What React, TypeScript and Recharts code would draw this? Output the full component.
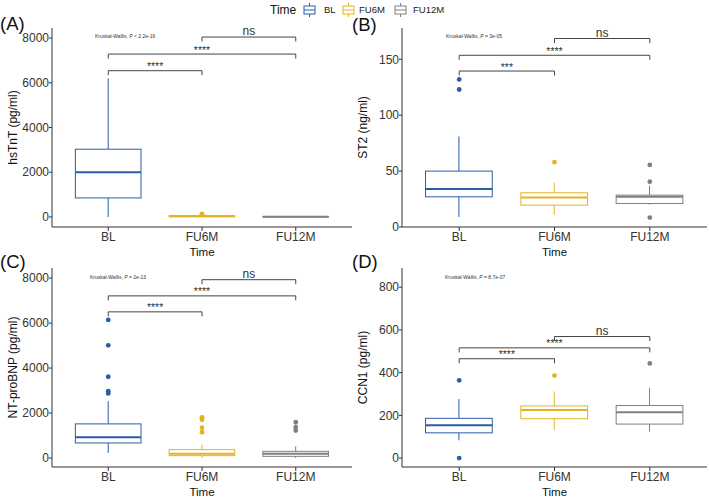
import { ComposedChart, Bar, Scatter, XAxis, YAxis, ReferenceLine } from 'recharts';

const TIMES = ['BL', 'FU6M', 'FU12M'];
const COLORS = ['#2B5DA8', '#E5B31E', '#808080'];
const PAIRS = [['BL', 'FU6M'], ['BL', 'FU12M'], ['FU6M', 'FU12M']];

// (A) hsTnT
const hstntLow = [0, 0, 0];
const hstntQ1 = [850, 10, 5];
const hstntMedian = [2000, 30, 10];
const hstntQ3 = [3030, 60, 20];
const hstntHigh = [6200, 80, 30];
const hstntOutliers = [[], [110, 140], []];
const hstntBrackets = [6540, 7285, 8045];
const hstntSignif = ['****', '****', 'ns'];

// (B) ST2
const st2Low = [9, 11, 20];
const st2Q1 = [27, 19.5, 21];
const st2Median = [34, 26.4, 27];
const st2Q3 = [50, 30.6, 28.5];
const st2High = [81, 39.6, 37];
const st2Outliers = [[123, 132], [58], [8.4, 40.5, 55.5]];
const st2Brackets = [139.5, 153.6, 168.6];
const st2Signif = ['***', '****', 'ns'];

// (C) NT-proBNP
const bnpLow = [223, 0, 0];
const bnpQ1 = [669, 104, 74];
const bnpMedian = [922, 193, 193];
const bnpQ3 = [1517, 372, 297];
const bnpHigh = [2528, 595, 520];
const bnpOutliers = [[2870, 2974, 3613, 5011, 6141], [1145, 1350, 1700, 1760, 1810], [1220, 1370, 1590]];
const bnpBrackets = [6500, 7210, 7930];
const bnpSignif = ['****', '****', 'ns'];

// (D) CCN1
const ccnLow = [83, 131, 123];
const ccnQ1 = [118, 184, 159];
const ccnMedian = [154, 225, 214];
const ccnQ3 = [186, 244, 246];
const ccnHigh = [276, 312, 328];
const ccnOutliers = [[0, 364], [386], [443]];
const ccnBrackets = [465, 516, 569];
const ccnSignif = ['****', '****', 'ns'];

const FONT = 'Arial, "Liberation Sans", sans-serif';

function buildRows(low, q1, median, q3, high) {
  return TIMES.map((time, i) => ({ time, low: low[i], q1: q1[i], median: median[i], q3: q3[i], high: high[i] }));
}

function BoxShape(props: any) {
  const { x, y, width, height, payload, index } = props;
  const { low, q1, median, q3, high } = payload;
  const color = COLORS[index];
  const toY = (v: number) => y + ((high - v) / (high - low)) * height;
  const cx = x + width / 2;
  return (
    <g>
      <line x1={cx} x2={cx} y1={toY(high)} y2={toY(q3)} stroke={color} strokeWidth={1} />
      <line x1={cx} x2={cx} y1={toY(q1)} y2={toY(low)} stroke={color} strokeWidth={1} />
      <rect x={x} y={toY(q3)} width={width} height={Math.max(toY(q1) - toY(q3), 0.5)} fill="#fff" stroke={color} strokeWidth={1} />
      <line x1={x} x2={x + width} y1={toY(median)} y2={toY(median)} stroke={color} strokeWidth={2} />
    </g>
  );
}

function BracketShape(props: any) {
  const { x1, y1, x2, y2 } = props;
  return <path d={`M${x1},${y1 + 4.5}V${y1}H${x2}V${y2 + 4.5}`} fill="none" stroke="#444" strokeWidth={1} />;
}

function Panel({ left, top, width, rows, outliers, brackets, signif, domain, ticks, yLabel }) {
  const plotW = width - 52 - 2;
  const pad = (plotW / 3.2) * 0.1;
  const barSize = ((plotW - 2 * pad) / 3) * 0.7;
  return (
    <div style={{ position: 'absolute', left, top }}>
      <ComposedChart width={width} height={258} data={rows} margin={{ top: 28, right: 2, left: 0, bottom: 0 }}>
        <XAxis
          dataKey="time"
          type="category"
          allowDuplicatedCategory={false}
          padding={{ left: pad, right: pad }}
          height={31}
          tickSize={4}
          tickMargin={1}
          interval={0}
          axisLine={{ stroke: '#333' }}
          tickLine={{ stroke: '#333' }}
          tick={{ fill: '#333', fontSize: 12, fontFamily: FONT }}
          label={{ value: 'Time', position: 'insideBottom', offset: 2, fill: '#111', fontSize: 11.5, fontFamily: FONT }}
        />
        <YAxis
          type="number"
          width={52}
          domain={domain}
          ticks={ticks}
          interval={0}
          allowDataOverflow
          tickSize={3}
          tickMargin={0}
          axisLine={{ stroke: '#333' }}
          tickLine={{ stroke: '#333' }}
          tick={{ fill: '#333', fontSize: 12, fontFamily: FONT }}
          label={{ value: yLabel, angle: -90, position: 'insideLeft', offset: 13, style: { textAnchor: 'middle' }, fill: '#111', fontSize: 12, fontFamily: FONT }}
        />
        <Bar dataKey={(d) => [d.low, d.high]} barSize={barSize} shape={BoxShape} isAnimationActive={false} />
        {TIMES.map((t, i) => (
          <Scatter
            key={t}
            data={outliers[i].map((v) => ({ time: t, value: v }))}
            dataKey="value"
            isAnimationActive={false}
            shape={(p: any) => <circle cx={p.cx} cy={p.cy} r={2.4} fill={COLORS[i]} />}
          />
        ))}
        {brackets.map((b, i) => (
          <ReferenceLine
            key={i}
            segment={[{ x: PAIRS[i][0], y: b }, { x: PAIRS[i][1], y: b }]}
            shape={BracketShape}
            ifOverflow="visible"
            label={{ value: signif[i], position: 'top', offset: signif[i] === 'ns' ? 2 : 0.5, fill: '#333', fontSize: signif[i] === 'ns' ? 12 : 10.5, fontFamily: FONT }}
          />
        ))}
      </ComposedChart>
    </div>
  );
}

function LegendIcon({ x, color }) {
  return (
    <g stroke={color} fill="#fff" strokeWidth={1}>
      <line x1={x + 6.5} x2={x + 6.5} y1={3} y2={6} />
      <line x1={x + 6.5} x2={x + 6.5} y1={14} y2={17} />
      <rect x={x + 1} y={6} width={11} height={8} />
      <line x1={x + 1} x2={x + 12} y1={10} y2={10} />
    </g>
  );
}

function KW({ x, y, rel, p }) {
  return (
    <text x={x} y={y} fontSize={5} fill="#333" fontFamily={FONT}>
      Kruskal-Wallis, <tspan fontStyle="italic">P</tspan> {rel} {p}
    </text>
  );
}

export default function App() {
  return (
    <div style={{ position: 'absolute', left: 0, top: 0, width: 709, height: 498, overflow: 'hidden', background: '#fff' }}>
      <Panel left={0} top={0} width={354} rows={buildRows(hstntLow, hstntQ1, hstntMedian, hstntQ3, hstntHigh)} outliers={hstntOutliers} brackets={hstntBrackets} signif={hstntSignif} domain={[-450, 8450]} ticks={[0, 2000, 4000, 6000, 8000]} yLabel="hsTnT (pg/ml)" />
      <Panel left={350} top={0} width={359} rows={buildRows(st2Low, st2Q1, st2Median, st2Q3, st2High)} outliers={st2Outliers} brackets={st2Brackets} signif={st2Signif} domain={[0, 178]} ticks={[0, 50, 100, 150]} yLabel="ST2 (ng/ml)" />
      <Panel left={0} top={240} width={354} rows={buildRows(bnpLow, bnpQ1, bnpMedian, bnpQ3, bnpHigh)} outliers={bnpOutliers} brackets={bnpBrackets} signif={bnpSignif} domain={[-400, 8450]} ticks={[0, 2000, 4000, 6000, 8000]} yLabel="NT-proBNP (pg/ml)" />
      <Panel left={350} top={240} width={359} rows={buildRows(ccnLow, ccnQ1, ccnMedian, ccnQ3, ccnHigh)} outliers={ccnOutliers} brackets={ccnBrackets} signif={ccnSignif} domain={[-42, 890]} ticks={[0, 200, 400, 600, 800]} yLabel="CCN1 (pg/ml)" />
      <svg width={709} height={498} style={{ position: 'absolute', left: 0, top: 0, pointerEvents: 'none' }}>
        <g fontFamily={FONT} fill="#111" fontSize={18.5}>
          <text x={0} y={30}>(A)</text>
          <text x={352} y={31}>(B)</text>
          <text x={0} y={268}>(C)</text>
          <text x={352} y={268}>(D)</text>
        </g>
        <KW x={95} y={38} rel="<" p="2.2e-16" />
        <KW x={446} y={38} rel="=" p="3e-05" />
        <KW x={90} y={279} rel="=" p="2e-13" />
        <KW x={445} y={279} rel="=" p="8.7e-07" />
        <text x={270} y={14} fontSize={12} fill="#111" fontFamily={FONT}>Time</text>
        <LegendIcon x={303} color={COLORS[0]} />
        <text x={324} y={12.5} fontSize={9.5} fill="#222" fontFamily={FONT}>BL</text>
        <LegendIcon x={342} color={COLORS[1]} />
        <text x={359} y={12.5} fontSize={9.5} fill="#222" fontFamily={FONT}>FU6M</text>
        <LegendIcon x={394} color={COLORS[2]} />
        <text x={413} y={12.5} fontSize={9.5} fill="#222" fontFamily={FONT}>FU12M</text>
      </svg>
    </div>
  );
}
